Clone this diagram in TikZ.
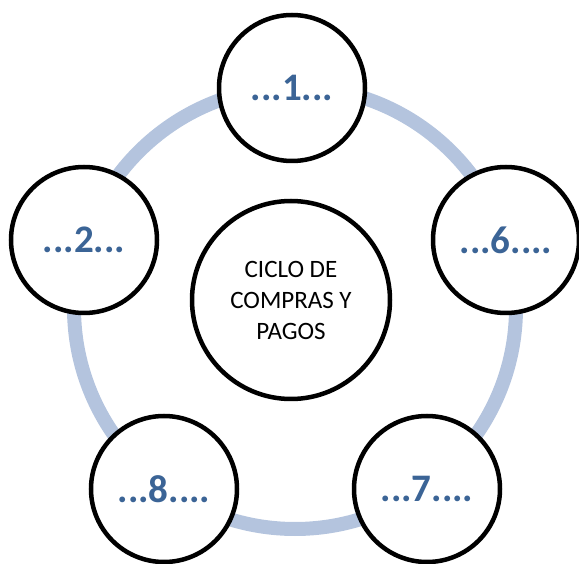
\documentclass[tikz,border=0pt]{standalone}
\usepackage{fontspec}
\setmainfont{Carlito}
\definecolor{ringblue}{RGB}{180,196,222}
\definecolor{textblue}{RGB}{59,100,150}
\begin{document}
\begin{tikzpicture}[x=1pt,y=1pt,
  outer/.style={circle,draw=black,line width=4.5pt,fill=white,minimum size=146pt,inner sep=0pt,
    font=\fontsize{39}{40}\selectfont\bfseries,text=textblue},
  hub/.style={circle,draw=black,line width=4.5pt,fill=white,minimum size=198pt,inner sep=0pt,
    font=\fontsize{25}{31}\selectfont,align=center}]
\useasboundingbox (0,0) rectangle (579,563);
\coordinate (rc) at (295,255);
\draw[ringblue,line width=14pt] (rc) circle (221);
\node[hub] (c) at (291,263) {CICLO DE\\COMPRAS Y\\PAGOS};
\node[outer] (n1) at (292,475) {...1...};
\node[outer] (n2) at (84,323) {...2...};
\node[outer] (n6) at (506,323) {...6....};
\node[outer] (n8) at (164,74) {...8....};
\node[outer] (n7) at (427,74) {...7....};
\end{tikzpicture}
\end{document}
